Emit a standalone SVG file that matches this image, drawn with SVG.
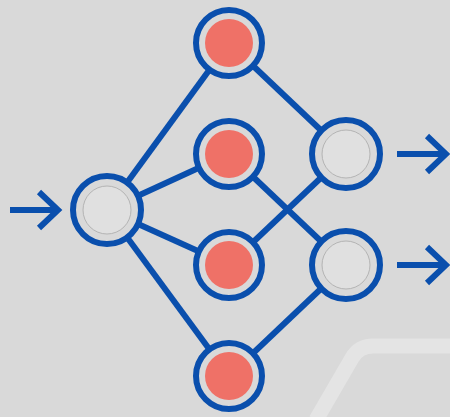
<svg xmlns="http://www.w3.org/2000/svg" width="450" height="417" viewBox="0 0 450 417">
  <style>
    .edge { stroke: #0a4fad; stroke-width: 6; fill: none; }
    .arrow { stroke: #0a4fad; stroke-width: 6; fill: none; stroke-linecap: butt; }
    .ring { fill: #d9d9d9; stroke: #0a4fad; stroke-width: 6; }
    .core { fill: #e0e0e0; stroke: #b4b4b4; stroke-width: 1; }
    .hot { fill: #ef7167; stroke: none; }
  </style>
  <rect width="450" height="417" fill="#d9d9d9"/>
  <!-- decorative stripe -->
  <path d="M316 420 L352 358 Q359 346 373 346 L452 346" fill="none" stroke="#e4e4e4" stroke-width="15"/>

  <g id="connectors">
    <line class="edge" x1="107" y1="210" x2="229" y2="43"/>
    <line class="edge" x1="107" y1="210" x2="229" y2="154"/>
    <line class="edge" x1="107" y1="210" x2="229" y2="265"/>
    <line class="edge" x1="107" y1="210" x2="229" y2="376"/>
    <line class="edge" x1="229" y1="43" x2="346" y2="154"/>
    <line class="edge" x1="229" y1="154" x2="346" y2="265"/>
    <line class="edge" x1="229" y1="265" x2="346" y2="154"/>
    <line class="edge" x1="229" y1="376" x2="346" y2="265"/>
    <!-- input arrow -->
    <path class="arrow" d="M10 210 H58 M39 192 L58 210 L39 228"/>
    <!-- output arrows -->
    <path class="arrow" d="M397 154 H446 M427 136 L446 154 L427 172"/>
    <path class="arrow" d="M397 265 H446 M427 247 L446 265 L427 283"/>
  </g>

  <g id="input">
    <circle class="ring" cx="107" cy="210" r="34"/>
    <circle class="core" cx="107" cy="210" r="24"/>
  </g>
  <g id="hidden1">
    <circle class="ring" cx="229" cy="43" r="33"/>
    <circle class="hot" cx="229" cy="43" r="24"/>
  </g>
  <g id="hidden2">
    <circle class="ring" cx="229" cy="154" r="33"/>
    <circle class="hot" cx="229" cy="154" r="24"/>
  </g>
  <g id="hidden3">
    <circle class="ring" cx="229" cy="265" r="33"/>
    <circle class="hot" cx="229" cy="265" r="24"/>
  </g>
  <g id="hidden4">
    <circle class="ring" cx="229" cy="376" r="33"/>
    <circle class="hot" cx="229" cy="376" r="24"/>
  </g>
  <g id="output1">
    <circle class="ring" cx="346" cy="154" r="34"/>
    <circle class="core" cx="346" cy="154" r="24"/>
  </g>
  <g id="output2">
    <circle class="ring" cx="346" cy="265" r="34"/>
    <circle class="core" cx="346" cy="265" r="24"/>
  </g>
</svg>
